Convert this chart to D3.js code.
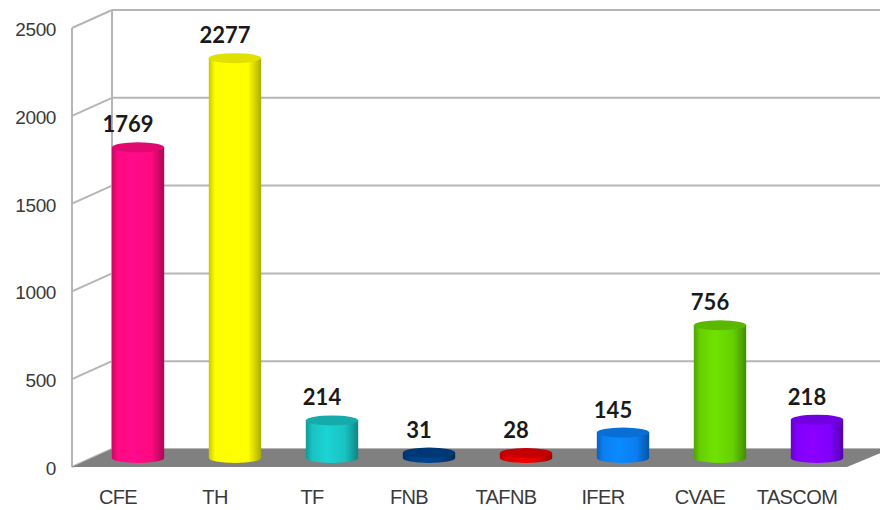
<!DOCTYPE html>
<html>
<head>
<meta charset="utf-8">
<script src="https://cdn.jsdelivr.net/npm/d3@7"></script>
<style>
    body { margin: 0; background: #fff; }
    svg { display: block; }
</style>
</head>
<body>
<svg id="chart"></svg>
<script>
const categories = ['CFE', 'TH', 'TF', 'FNB', 'TAFNB', 'IFER', 'CVAE', 'TASCOM'];
const values = [1769, 2277, 214, 31, 28, 145, 756, 218];
const barColors = ['#ff0a80', '#ffff00', '#19c2c2', '#003f84', '#e00000', '#0a7ef2', '#66d000', '#8000ff'];
const yTicks = [0, 500, 1000, 1500, 2000, 2500];

const width = 880, height = 510;
const depth = { dx: 40, dy: 18 };   // shift from back wall to front edge
const wallLeft = 112;

const svg = d3.select('#chart')
    .attr('width', width)
    .attr('height', height);

// back wall scale, the front and bar-depth ones are offsets of it
const yBack = d3.scaleLinear().domain([0, 2500]).range([449, 10]);
const yMid = v => yBack(v) + depth.dy / 2;
const yFront = v => yBack(v) + depth.dy;

const xScale = d3.scaleBand()
    .domain(categories)
    .range([89.5, 865.5])
    .paddingInner(0.46)
    .paddingOuter(0.23);

// gridlines on back wall and side wall
const grid = svg.append('g').attr('stroke', '#b5b5b5').attr('stroke-width', 2).attr('fill', 'none');
grid.selectAll('.hline')
    .data(yTicks)
    .join('line')
    .attr('x1', wallLeft).attr('x2', width)
    .attr('y1', d => yBack(d)).attr('y2', d => yBack(d));
grid.selectAll('.sline')
    .data(yTicks)
    .join('line')
    .attr('x1', wallLeft).attr('x2', wallLeft - depth.dx)
    .attr('y1', d => yBack(d)).attr('y2', d => yFront(d));
grid.append('line')
    .attr('x1', wallLeft).attr('x2', wallLeft)
    .attr('y1', yBack(2500)).attr('y2', yBack(0));
grid.append('line')
    .attr('x1', wallLeft - depth.dx).attr('x2', wallLeft - depth.dx)
    .attr('y1', yFront(2500)).attr('y2', yFront(0));

// floor
const floorPts = [
    [wallLeft, yBack(0)], [width + 10, yBack(0)],
    [width + 10 - depth.dx - 3, yFront(0)], [wallLeft - depth.dx, yFront(0)]
];
svg.append('polygon')
    .attr('points', floorPts.map(p => p.join(',')).join(' '))
    .attr('fill', '#808080');

// y tick labels
svg.append('g').selectAll('text')
    .data(yTicks)
    .join('text')
    .attr('x', 56)
    .attr('y', d => yFront(d) + 3)
    .attr('text-anchor', 'end')
    .attr('dominant-baseline', 'middle')
    .attr('font-family', 'Liberation Sans, Arial, sans-serif')
    .attr('font-size', 19)
    .attr('letter-spacing', -0.4)
    .attr('fill', '#3a3a3a')
    .text(d => d);

// cylinder gradients
const defs = svg.append('defs');
barColors.forEach((c, i) => {
    const g = defs.append('linearGradient')
        .attr('id', 'cyl' + i)
        .attr('x1', '0%').attr('x2', '100%');
    const base = d3.color(c);
    [[0, base.darker(0.7)], [0.12, base], [0.4, base.brighter(0.25)], [0.75, base], [1, base.darker(1.1)]]
        .forEach(([o, col]) => g.append('stop').attr('offset', o).attr('stop-color', col));
});

const rx = xScale.bandwidth() / 2;
const ry = 5;
const data = categories.map((c, i) => ({ cat: c, value: values[i], i }));

const bars = svg.append('g').selectAll('g')
    .data(data)
    .join('g');

bars.append('ellipse')
    .attr('cx', d => xScale(d.cat) + rx)
    .attr('cy', yMid(0))
    .attr('rx', rx).attr('ry', ry)
    .attr('fill', d => `url(#cyl${d.i})`);

bars.append('rect')
    .attr('x', d => xScale(d.cat))
    .attr('y', d => yMid(d.value))
    .attr('width', xScale.bandwidth())
    .attr('height', d => yMid(0) - yMid(d.value))
    .attr('fill', d => `url(#cyl${d.i})`);

bars.append('ellipse')
    .attr('cx', d => xScale(d.cat) + rx)
    .attr('cy', d => yMid(d.value))
    .attr('rx', rx).attr('ry', ry)
    .attr('fill', d => d3.color(barColors[d.i]).darker(0.35));

// value labels
bars.append('text')
    .attr('x', d => xScale(d.cat) + rx - 10)
    .attr('y', d => yMid(d.value) - 15)
    .attr('text-anchor', 'middle')
    .attr('font-family', 'Lato, sans-serif')
    .attr('font-weight', 'bold')
    .attr('font-size', 22)
    .attr('fill', '#1a1a1a')
    .text(d => d.value);

// category labels
svg.append('g').selectAll('text')
    .data(categories)
    .join('text')
    .attr('x', d => xScale(d) + rx - 20)
    .attr('y', 504)
    .attr('text-anchor', 'middle')
    .attr('font-family', 'Liberation Sans, Arial, sans-serif')
    .attr('font-size', 20)
    .attr('letter-spacing', -0.6)
    .attr('fill', '#3a3a3a')
    .text(d => d);
</script>
</body>
</html>
